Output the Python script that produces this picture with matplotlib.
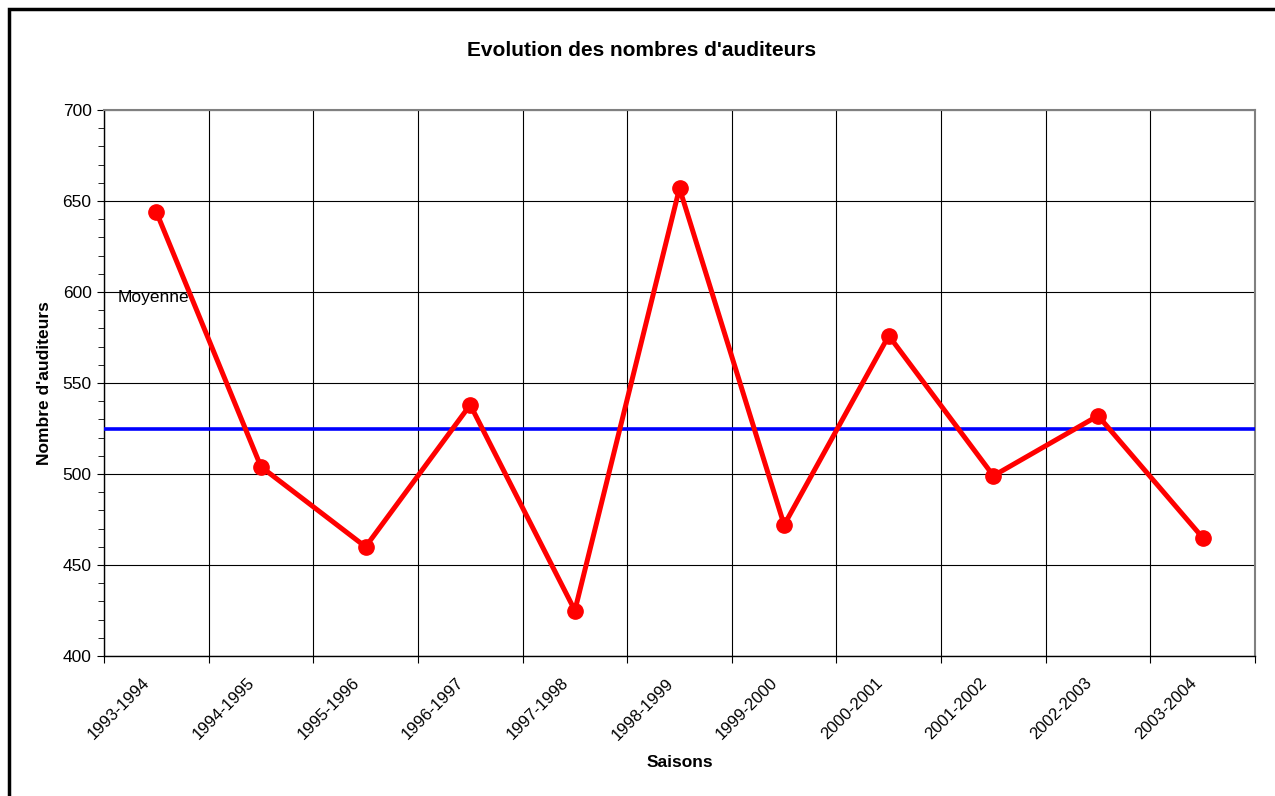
import matplotlib
matplotlib.use("Agg")
import matplotlib.pyplot as plt
from matplotlib.patches import Rectangle
from matplotlib.transforms import ScaledTranslation
import numpy as np

plt.rcParams['font.family'] = ['Liberation Sans', 'DejaVu Sans']

# Données
saisons = ["1993-1994", "1994-1995", "1995-1996", "1996-1997", "1997-1998",
           "1998-1999", "1999-2000", "2000-2001", "2001-2002", "2002-2003",
           "2003-2004"]
auditeurs = [644, 504, 460, 538, 425, 657, 472, 576, 499, 532, 465]
moyenne = np.mean(auditeurs)

fig = plt.figure(figsize=(12.75, 7.96), dpi=100)
ax = fig.add_axes([104/1275, 1-656/796, (1255-104)/1275, (656-110)/796])

x = np.arange(len(saisons))

# Lignes de la grille
ax.set_xlim(-0.5, len(saisons) - 0.5)
ax.set_ylim(400, 700)
ax.set_xticks(np.arange(-0.5, len(saisons) + 0.5, 1))
ax.set_xticklabels([])
ax.set_xticks(x, minor=True)
ax.set_xticklabels(saisons, minor=True, rotation=45, ha='right',
                   rotation_mode='anchor', fontsize=12)
ax.tick_params(axis='x', which='minor', length=0, pad=14)
ax.tick_params(axis='x', which='major', length=5, direction='out', color='black')
decal = ScaledTranslation(-14/100, 0, fig.dpi_scale_trans)
for lab in ax.get_xticklabels(minor=True):
    lab.set_transform(lab.get_transform() + decal)
ax.set_yticks(np.arange(400, 701, 50))
ax.set_yticks(np.arange(400, 701, 10), minor=True)
ax.tick_params(axis='y', which='major', length=5, labelsize=12.5, pad=4)
ax.tick_params(axis='y', which='minor', length=4)
ax.grid(True, which='major', color='black', linewidth=0.8)
ax.set_axisbelow(True)

for s in ['top', 'right']:
    ax.spines[s].set_color('#808080')
    ax.spines[s].set_linewidth(1.5)
for s in ['left', 'bottom']:
    ax.spines[s].set_color('black')
    ax.spines[s].set_linewidth(1.0)

# Moyenne
ax.axhline(moyenne, color='#0000FF', linewidth=2.6, zorder=3)
ax.text(-0.37, 597, "Moyenne", fontsize=12.5, ha='left', va='center')

# Série
ax.plot(x, auditeurs, color='#FF0000', linewidth=3.6, marker='o',
        markersize=11, zorder=4)

fig.text(642/1275, 1-50/796, "Evolution des nombres d'auditeurs",
         fontsize=15, fontweight='bold', ha='center', va='center')
ax.set_xlabel("Saisons", fontsize=12.5, fontweight='bold', labelpad=9)
ax.set_ylabel("Nombre d'auditeurs", fontsize=12.5, fontweight='bold', labelpad=7.5)

# Cadre du graphique
fig.patches.append(Rectangle((9/1275, -0.1), 1.2, 1.1 - 9/796,
                             transform=fig.transFigure, fill=False,
                             edgecolor='black', linewidth=2.5))

fig.savefig("out.png", dpi=100)
